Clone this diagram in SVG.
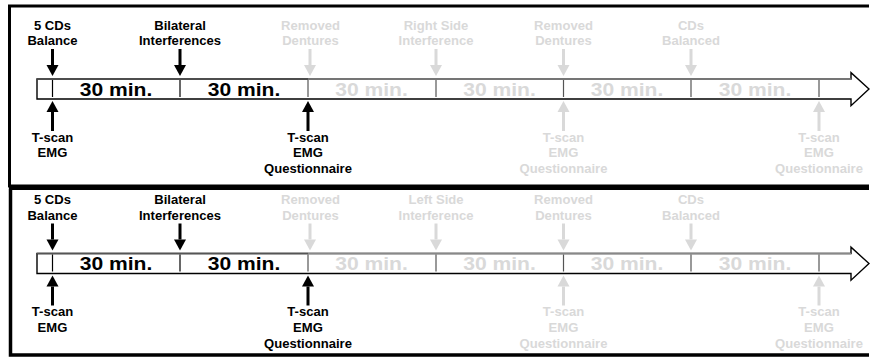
<svg xmlns="http://www.w3.org/2000/svg" xmlns:xlink="http://www.w3.org/1999/xlink" width="870" height="358" viewBox="0 0 870 358">
<style>
.lbl{font-family:"Liberation Sans",Arial,Helvetica,sans-serif;font-weight:bold;font-size:12px;text-anchor:middle}
.min{font-size:18.5px}
.dk{fill:#000}
.fd{fill:#d9d9d9}
.frame{fill:none;stroke:#000}
.bar{fill:#fff;stroke:#000;stroke-width:1.4}
.tickd{stroke:#000;stroke-width:1.2}
.tickf{stroke:#555;stroke-width:1.2}
</style>
<defs>
<g id="down"><rect x="-1.5" y="0" width="3" height="16"/><polygon points="-6,16 6,16 0,27"/></g>
<g id="up"><polygon points="0,0 -6,11 6,11"/><rect x="-1.5" y="11" width="3" height="19"/></g>
<g id="timeline">
<polygon class="bar" points="37,79 851,79 851,72.7 869,89 851,105.7 851,99 37,99"/>
<line x1="37" y1="79" x2="308" y2="79" stroke="#555" stroke-width="1.4"/>
<line x1="308" y1="79" x2="851" y2="79" stroke="#888" stroke-width="1.4"/>
<line class="tickd" x1="52.5" y1="80" x2="52.5" y2="97"/>
<line class="tickd" x1="180" y1="80" x2="180" y2="97"/>
<line class="tickf" x1="308" y1="80" x2="308" y2="97"/>
<line class="tickf" x1="436" y1="80" x2="436" y2="97"/>
<line class="tickf" x1="563.5" y1="80" x2="563.5" y2="97"/>
<line class="tickf" x1="691" y1="80" x2="691" y2="97"/>
<line class="tickf" x1="819" y1="80" x2="819" y2="97"/>
<text class="lbl min dk" transform="translate(116,95.5) scale(1.14,1)">30 min.</text>
<text class="lbl min dk" transform="translate(244,95.5) scale(1.14,1)">30 min.</text>
<text class="lbl min fd" transform="translate(371.5,95.5) scale(1.14,1)">30 min.</text>
<text class="lbl min fd" transform="translate(499.5,95.5) scale(1.14,1)">30 min.</text>
<text class="lbl min fd" transform="translate(627,95.5) scale(1.14,1)">30 min.</text>
<text class="lbl min fd" transform="translate(755,95.5) scale(1.14,1)">30 min.</text>
</g>
</defs>

<g id="frames">
<path class="frame" stroke-width="3" d="M9.5,186 V6 H869"/>
<line class="frame" stroke-width="3" x1="8" y1="186" x2="869" y2="186"/>
<path class="frame" stroke-width="3.5" d="M10.5,188.5 V355 H869"/>
<line class="frame" stroke-width="3" x1="9" y1="188.5" x2="869" y2="188.5"/>
</g>

<!-- Top panel -->
<g id="panel-top">
<use xlink:href="#timeline"/>
<g id="connectors-top">
<use xlink:href="#down" x="52.5" y="49" class="dk"/>
<use xlink:href="#down" x="180" y="49" class="dk"/>
<use xlink:href="#down" x="310" y="49" class="fd"/>
<use xlink:href="#down" x="436" y="49" class="fd"/>
<use xlink:href="#down" x="563.5" y="49" class="fd"/>
<use xlink:href="#down" x="691" y="49" class="fd"/>
<use xlink:href="#up" x="52.5" y="101" class="dk"/>
<use xlink:href="#up" x="308" y="101" class="dk"/>
<use xlink:href="#up" x="563.5" y="101" class="fd"/>
<use xlink:href="#up" x="819" y="101" class="fd"/>
</g>
<g id="t-balance"><text class="lbl dk" transform="translate(52.5,29.5) scale(1.09,1)"><tspan x="0">5 CDs</tspan><tspan x="0" dy="16">Balance</tspan></text></g>
<g id="t-bilateral"><text class="lbl dk" transform="translate(180,29.5) scale(1.09,1)"><tspan x="0">Bilateral</tspan><tspan x="0" dy="16">Interferences</tspan></text></g>
<g id="t-removed1"><text class="lbl fd" transform="translate(310.5,29.5) scale(1.09,1)"><tspan x="0">Removed</tspan><tspan x="0" dy="16">Dentures</tspan></text></g>
<g id="t-rightside"><text class="lbl fd" transform="translate(436,29.5) scale(1.09,1)"><tspan x="0">Right Side</tspan><tspan x="0" dy="16">Interference</tspan></text></g>
<g id="t-removed2"><text class="lbl fd" transform="translate(563.5,29.5) scale(1.09,1)"><tspan x="0">Removed</tspan><tspan x="0" dy="16">Dentures</tspan></text></g>
<g id="t-balanced"><text class="lbl fd" transform="translate(691,29.5) scale(1.09,1)"><tspan x="0">CDs</tspan><tspan x="0" dy="16">Balanced</tspan></text></g>
<g id="t-scan1"><text class="lbl dk" transform="translate(52.5,141.5) scale(1.09,1)"><tspan x="0">T-scan</tspan><tspan x="0" dy="16">EMG</tspan></text></g>
<g id="t-scan2"><text class="lbl dk" transform="translate(308,141.5) scale(1.09,1)"><tspan x="0">T-scan</tspan><tspan x="0" dy="16">EMG</tspan><tspan x="0" dy="16">Questionnaire</tspan></text></g>
<g id="t-scan3"><text class="lbl fd" transform="translate(563.5,141.5) scale(1.09,1)"><tspan x="0">T-scan</tspan><tspan x="0" dy="16">EMG</tspan><tspan x="0" dy="16">Questionnaire</tspan></text></g>
<g id="t-scan4"><text class="lbl fd" transform="translate(819,141.5) scale(1.09,1)"><tspan x="0">T-scan</tspan><tspan x="0" dy="16">EMG</tspan><tspan x="0" dy="16">Questionnaire</tspan></text></g>
</g>

<!-- Bottom panel -->
<g id="panel-bottom" transform="translate(0,174.5)">
<use xlink:href="#timeline"/>
<g id="connectors-bottom">
<use xlink:href="#down" x="52.5" y="49" class="dk"/>
<use xlink:href="#down" x="180" y="49" class="dk"/>
<use xlink:href="#down" x="310" y="49" class="fd"/>
<use xlink:href="#down" x="436" y="49" class="fd"/>
<use xlink:href="#down" x="563.5" y="49" class="fd"/>
<use xlink:href="#down" x="691" y="49" class="fd"/>
<use xlink:href="#up" x="52.5" y="101" class="dk"/>
<use xlink:href="#up" x="308" y="101" class="dk"/>
<use xlink:href="#up" x="563.5" y="101" class="fd"/>
<use xlink:href="#up" x="819" y="101" class="fd"/>
</g>
<g id="b-balance"><text class="lbl dk" transform="translate(52.5,29.5) scale(1.09,1)"><tspan x="0">5 CDs</tspan><tspan x="0" dy="16">Balance</tspan></text></g>
<g id="b-bilateral"><text class="lbl dk" transform="translate(180,29.5) scale(1.09,1)"><tspan x="0">Bilateral</tspan><tspan x="0" dy="16">Interferences</tspan></text></g>
<g id="b-removed1"><text class="lbl fd" transform="translate(310.5,29.5) scale(1.09,1)"><tspan x="0">Removed</tspan><tspan x="0" dy="16">Dentures</tspan></text></g>
<g id="b-leftside"><text class="lbl fd" transform="translate(436,29.5) scale(1.09,1)"><tspan x="0">Left Side</tspan><tspan x="0" dy="16">Interference</tspan></text></g>
<g id="b-removed2"><text class="lbl fd" transform="translate(563.5,29.5) scale(1.09,1)"><tspan x="0">Removed</tspan><tspan x="0" dy="16">Dentures</tspan></text></g>
<g id="b-balanced"><text class="lbl fd" transform="translate(691,29.5) scale(1.09,1)"><tspan x="0">CDs</tspan><tspan x="0" dy="16">Balanced</tspan></text></g>
<g id="b-scan1"><text class="lbl dk" transform="translate(52.5,141.5) scale(1.09,1)"><tspan x="0">T-scan</tspan><tspan x="0" dy="16">EMG</tspan></text></g>
<g id="b-scan2"><text class="lbl dk" transform="translate(308,141.5) scale(1.09,1)"><tspan x="0">T-scan</tspan><tspan x="0" dy="16">EMG</tspan><tspan x="0" dy="16">Questionnaire</tspan></text></g>
<g id="b-scan3"><text class="lbl fd" transform="translate(563.5,141.5) scale(1.09,1)"><tspan x="0">T-scan</tspan><tspan x="0" dy="16">EMG</tspan><tspan x="0" dy="16">Questionnaire</tspan></text></g>
<g id="b-scan4"><text class="lbl fd" transform="translate(819,141.5) scale(1.09,1)"><tspan x="0">T-scan</tspan><tspan x="0" dy="16">EMG</tspan><tspan x="0" dy="16">Questionnaire</tspan></text></g>
</g>
</svg>
